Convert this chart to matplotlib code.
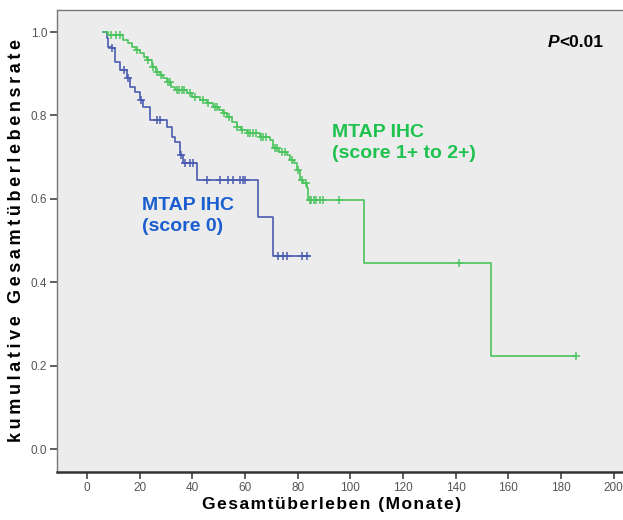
import numpy as np
import matplotlib
matplotlib.use("Agg")
import matplotlib.pyplot as plt

plt.rcParams['font.family'] = ['Liberation Sans', 'DejaVu Sans']

# MTAP IHC score 0 (blau)
blau_zeit = [6.2, 7.5, 8.1, 9.4, 10.6, 12.5, 15.1, 16.3, 18.2, 20.1, 21.4, 23.9,
             30.2, 32.1, 33.4, 35.3, 36.5, 41.6, 65.0, 70.7, 84.6]
blau_rate = [1.0, 0.985, 0.965, 0.961, 0.929, 0.909, 0.889, 0.869, 0.857, 0.837, 0.821, 0.789,
             0.773, 0.749, 0.737, 0.705, 0.685, 0.645, 0.556, 0.464, 0.464]
blau_zensiert = [9.6, 14.0, 15.6, 20.6, 26.5, 27.7, 35.6, 37.2, 39.1, 40.3,
                 45.4, 50.5, 53.6, 55.5, 58.1, 59.1, 60.1, 72.6, 74.5, 75.8, 81.5, 83.4]

# MTAP IHC score 1+ bis 2+ (gruen)
gruen_zeit = [6.1, 8.0, 13.8, 15.5, 17.0, 18.5, 20.1, 21.5, 22.7, 24.5, 26.0, 27.7, 29.0,
              30.2, 32.0, 33.4, 38.0, 40.0, 42.9, 45.5, 47.9, 50.0, 51.5, 53.0, 55.0,
              56.8, 58.5, 60.6, 65.7, 69.4, 70.7, 73.0, 76.0, 77.0, 78.5, 79.6, 80.8,
              82.0, 83.4, 84.0, 105.2, 153.3, 185.6]
gruen_rate = [1.0, 0.992, 0.981, 0.973, 0.965, 0.957, 0.949, 0.941, 0.933, 0.917, 0.905, 0.897, 0.889,
              0.881, 0.869, 0.861, 0.853, 0.845, 0.837, 0.829, 0.821, 0.813, 0.805, 0.797, 0.785,
              0.773, 0.765, 0.757, 0.749, 0.741, 0.721, 0.713, 0.705, 0.693, 0.685, 0.669, 0.645,
              0.637, 0.625, 0.597, 0.447, 0.223, 0.223]
gruen_zensiert = [9.0, 11.0, 12.5, 19.0, 23.0, 25.0, 26.5, 28.0, 30.8, 31.5, 34.0, 35.0, 36.0,
                  37.0, 39.0, 41.0, 44.0, 46.0, 48.5, 49.2, 52.0, 54.0, 57.0, 59.0, 61.0, 62.0,
                  63.0, 64.0, 66.0, 67.0, 68.0, 71.5, 72.0, 74.0, 75.0, 78.0, 80.0, 81.5, 83.0,
                  84.5, 85.2, 86.0, 87.0, 88.5, 89.5, 95.8, 141.3, 185.6]

x_ticks = [0, 20, 40, 60, 80, 100, 120, 140, 160, 180, 200]
y_ticks = [0.0, 0.2, 0.4, 0.6, 0.8, 1.0]

blau_linie = "#4a5cb0"
gruen_linie = "#4cc45e"
blau_text = "#1a5ed0"
gruen_text = "#1ec24e"


def rate_bei(zeit, rate, t):
    idx = np.searchsorted(zeit, t, side="right") - 1
    return np.array(rate)[idx]


def gesperrt(text, luecke):
    # SPSS-artige Sperrung der Achsentitel
    return luecke.join(text)


fig = plt.figure(figsize=(6.23, 5.2), dpi=100)
ax = fig.add_axes([57 / 623, 1 - 472 / 520, 1 - 57 / 623, 462 / 520])
ax.set_facecolor("#ececec")

ax.step(blau_zeit, blau_rate, where="post", color=blau_linie, lw=1.2)
ax.plot(blau_zensiert, rate_bei(blau_zeit, blau_rate, blau_zensiert), "+",
        color=blau_linie, ms=6, mew=1.1)
ax.step(gruen_zeit, gruen_rate, where="post", color=gruen_linie, lw=1.2)
ax.plot(gruen_zensiert, rate_bei(gruen_zeit, gruen_rate, gruen_zensiert), "+",
        color=gruen_linie, ms=6, mew=1.1)

ax.set_xlim(-11.4, 203.5)
ax.set_ylim(-0.055, 1.053)
ax.set_xticks(x_ticks)
ax.set_yticks(y_ticks)
ax.set_yticklabels([f"{v:.1f}" for v in y_ticks])
ax.tick_params(direction="out", length=5, width=1.2, color="#444444",
               labelcolor="#555555", labelsize=8.5, pad=2)

for s in ["left", "top"]:
    ax.spines[s].set_color("#777777")
    ax.spines[s].set_linewidth(1.0)
ax.spines["bottom"].set_color("#333333")
ax.spines["bottom"].set_linewidth(1.8)
ax.spines["right"].set_visible(False)

ax.set_xlabel(gesperrt("Gesamtüberleben (Monate)", "\u200a"),
              fontsize=12.5, fontweight="bold", labelpad=1)
ax.xaxis.set_label_coords(0.485, -0.055)
ax.set_ylabel(gesperrt("kumulative Gesamtüberlebensrate", "\u2009"),
              fontsize=13, fontweight="bold", labelpad=4)

ax.text(93, 0.78, "MTAP IHC\n(score 1+ to 2+)", color=gruen_text, fontsize=14,
        fontweight="bold", va="top", ha="left", linespacing=1.3)
ax.text(20.8, 0.605, "MTAP IHC\n(score 0)", color=blau_text, fontsize=14,
        fontweight="bold", va="top", ha="left", linespacing=1.3)

t = ax.text(196, 0.975, "<0.01", fontsize=12.5, fontweight="bold", ha="right", va="center")
ax.annotate("P", xy=(0, 0), xycoords=t, ha="right", va="bottom",
            fontsize=12.5, fontweight="bold", fontstyle="italic")

fig.savefig("out.png", dpi=100)
